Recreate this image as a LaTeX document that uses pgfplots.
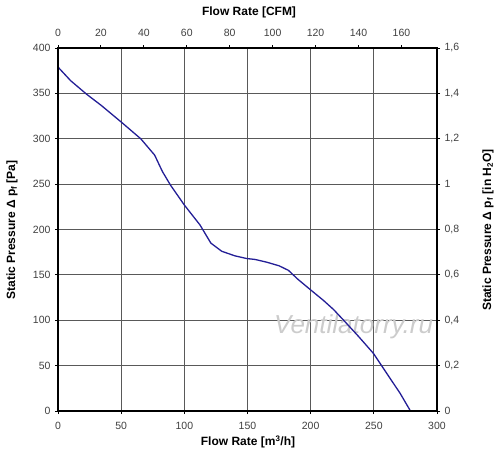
\documentclass[border=0pt]{standalone}
\usepackage{fontspec}
\setmainfont{Liberation Sans}
\usepackage{pgfplots}
\pgfplotsset{compat=1.18}
\definecolor{curve}{RGB}{35,30,150}
\begin{document}
\begin{tikzpicture}[x=1pt,y=1pt]
\path[use as bounding box] (0,0) rectangle (500,459);
\begin{axis}[
  at={(58pt,48pt)}, anchor=south west, scale only axis,
  width=379pt, height=363pt,
  xmin=0, xmax=300, ymin=0, ymax=400,
  xtick={0,50,...,300}, ytick={0,50,...,400},
  xtick pos=bottom, ytick pos=left,
  tick align=outside, major tick length=3pt,
  grid=major,
  major grid style={black!65, line width=0.9pt},
  axis line style={black, line width=1.4pt},
  every tick/.style={black, line width=1pt},
  tick label style={font=\fontsize{10.5}{12}\selectfont, text=black!75},
  /pgf/number format/assume math mode=true,
  xticklabel style={yshift=-5pt},
  yticklabel style={xshift=-1pt},
  clip=false,
]
\node[text=black!20, font=\itshape\fontsize{26}{26}\selectfont] at (axis cs:234,93) {Ventilatorry.ru};
\addplot[curve, line width=1.3pt] coordinates {
(0,379) (10,364) (22.7,349) (34,337) (50.4,318) (65.5,300) (76.5,282)
(82.6,264) (89,249) (100,227) (112.4,205) (121,185) (129.6,176) (140,171)
(149.4,168) (156,167) (165.2,164) (175,160) (182.4,155) (190,145)
(199.5,134) (210,122) (218,112) (225.9,100.3) (238,82) (249.6,63.6)
(260.2,41.5) (270.8,19.5) (279,0)
};
\end{axis}
\begin{axis}[
  at={(58pt,48pt)}, anchor=south west, scale only axis,
  width=379pt, height=363pt,
  xmin=0, xmax=176.57, ymin=0, ymax=1.6,
  xtick={0,20,...,160}, ytick={0,0.2,...,1.6},
  xtick pos=top, ytick pos=right,
  xticklabel pos=top, yticklabel pos=right,
  tick align=outside, major tick length=3pt,
  axis line style={black, line width=1.4pt},
  every tick/.style={black, line width=1pt},
  tick label style={font=\fontsize{10.5}{12}\selectfont, text=black!75},
  /pgf/number format/assume math mode=true,
  /pgf/number format/use comma,
  xticklabel style={yshift=5pt},
  yticklabel style={xshift=1pt},
]
\addplot[draw=none] coordinates {(0,0)};
\end{axis}
\node[font=\bfseries\fontsize{12}{14}\selectfont] at (249,447) {Flow Rate [CFM]};
\node[font=\bfseries\fontsize{12}{14}\selectfont] at (248,17) {Flow Rate [m\textsuperscript{3}/h]};
\node[font=\bfseries\fontsize{12}{14}\selectfont, rotate=90] at (12,229) {Static Pressure Δ p\textsubscript{f} [Pa]};
\node[font=\bfseries\fontsize{12}{14}\selectfont, rotate=90] at (488,229) {Static Pressure Δ p\textsubscript{f} [in H\textsubscript{2}O]};
\end{tikzpicture}
\end{document}
